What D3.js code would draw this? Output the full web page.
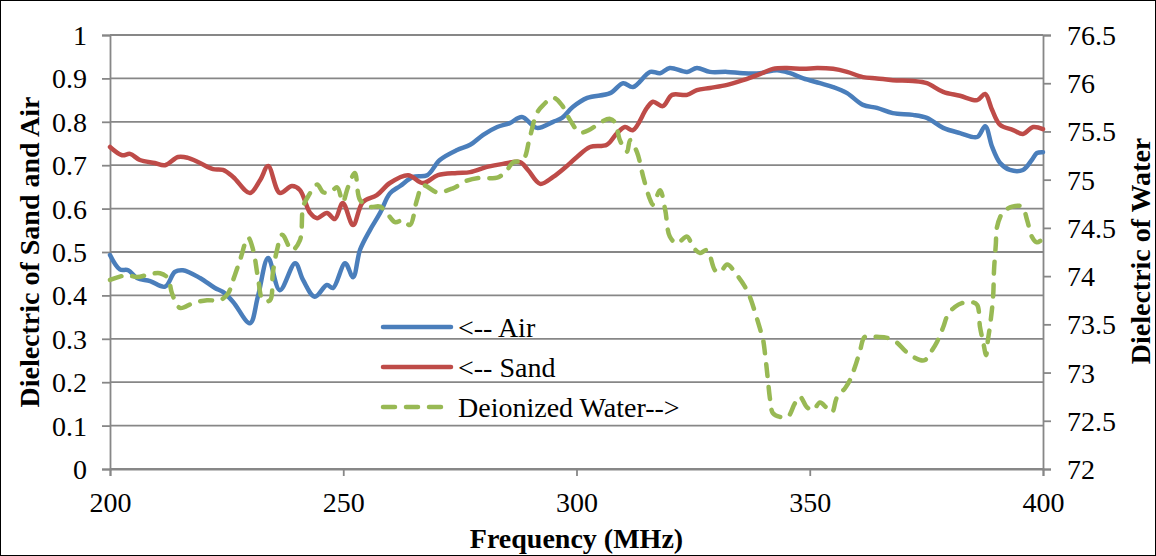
<!DOCTYPE html>
<html>
<head>
<meta charset="utf-8">
<script src="https://cdnjs.cloudflare.com/ajax/libs/d3/7.8.5/d3.min.js"></script>
<style>
  html, body { margin: 0; padding: 0; background: #fff; }
  svg { display: block; }
</style>
</head>
<body>
<svg id="chart" width="1156" height="556"></svg>
<script>
// ---- Data ----
const airFreq = [200,202.1,203.9,205.8,208.6,211.8,213.9,215.6,219.3,222.5,224.2,226.4,230.0,231.7,233.9,236.4,239.7,241.4,243.9,246.5,247.8,250.4,252.1,253.6,255.7,257.9,260.0,262.2,265.0,268.0,270.7,274.4,277.2,280.0,283.0,285.7,288.3,291.5,295.0,296.9,299.2,302.3,307.2,310.0,312.1,315.8,317.9,320.0,323.7,325.8,328.6,332.3,335.7,339.3,343.0,345.8,348.6,352.2,355.0,358.0,361.4,364.4,367.8,372.1,375.1,378.6,382.2,385.9,387.6,389.1,390.8,392.9,395.7,397.6,398.7,400];
const airValues = [0.493,0.46,0.458,0.44,0.433,0.42,0.454,0.458,0.44,0.417,0.408,0.385,0.336,0.397,0.486,0.412,0.474,0.435,0.397,0.424,0.417,0.474,0.442,0.505,0.55,0.59,0.635,0.652,0.673,0.677,0.712,0.735,0.747,0.77,0.788,0.797,0.811,0.786,0.8,0.809,0.834,0.855,0.866,0.889,0.88,0.915,0.912,0.924,0.915,0.924,0.915,0.915,0.912,0.912,0.919,0.912,0.9,0.889,0.88,0.866,0.839,0.832,0.82,0.816,0.809,0.786,0.774,0.765,0.79,0.742,0.705,0.689,0.689,0.712,0.728,0.73];

const sandFreq = [200,202.6,204.3,206.4,209.6,211.8,214.6,216.7,219.3,222.1,224.2,226.4,230.0,232.2,233.9,236.4,239.0,240.7,242.9,244.4,246.5,248.2,249.9,252.1,254.2,257.2,260.0,263.9,267.1,270.3,274.4,277.2,280.8,284.2,287.9,289.6,292.2,295.0,297.5,300.1,302.9,306.5,308.7,310.4,312.1,315.1,316.4,318.5,320.5,323.7,325.8,328.6,332.3,335.7,339.3,342.1,345.1,348.6,351.6,355.0,358.0,361.4,364.4,367.8,372.1,375.1,378.6,382.2,385.9,387.6,389.1,390.8,393.6,395.7,397.9,400];
const sandValues = [0.742,0.723,0.726,0.712,0.705,0.70,0.719,0.717,0.705,0.691,0.689,0.673,0.636,0.666,0.698,0.636,0.652,0.643,0.59,0.578,0.59,0.576,0.613,0.562,0.615,0.631,0.659,0.677,0.659,0.677,0.682,0.684,0.696,0.703,0.707,0.689,0.657,0.673,0.694,0.719,0.742,0.747,0.774,0.788,0.781,0.832,0.846,0.836,0.862,0.862,0.873,0.878,0.885,0.896,0.91,0.922,0.924,0.922,0.924,0.922,0.915,0.903,0.90,0.896,0.894,0.889,0.869,0.86,0.85,0.864,0.827,0.793,0.781,0.772,0.788,0.783];

const waterFreq = [200,203.6,205.8,208.6,210.7,212.4,213.3,215.0,217.8,220.8,223.6,225.3,226.4,227.9,229.6,230.7,231.7,232.8,234.3,234.9,235.8,236.9,239.0,240.7,241.4,242.4,244.4,245.7,247.2,248.7,249.9,251.0,252.5,253.6,255.7,257.9,259.4,261.1,262.8,264.3,265.8,267.1,270.1,273.5,276.5,279.3,283.0,285.1,286.4,288.5,290.0,291.5,292.8,295.0,296.9,298.6,300.7,302.9,305.0,307.2,308.3,309.3,310.8,311.5,313.0,314.3,315.8,316.4,317.9,319.0,320.0,321.5,323.7,325.0,326.5,328.0,329.7,330.8,332.3,334.4,336.1,337.2,338.3,339.3,340.0,340.4,340.8,341.1,341.5,342.1,343.6,345.3,346.8,347.9,349.4,350.7,352.2,353.7,354.8,355.8,357.6,358.6,359.7,360.8,361.8,364.4,366.6,368.7,370.8,373.6,374.7,375.8,377.3,378.6,379.6,381.1,382.6,384.8,385.9,386.5,387.2,387.8,388.2,388.6,389.3,389.5,389.9,390.1,391.4,393.4,395.5,396.6,397.6,398.7,400];
const waterValues = [73.96,74.01,73.99,74.02,74.03,73.98,73.82,73.67,73.72,73.75,73.75,73.82,73.96,74.17,74.40,74.27,73.99,73.75,73.75,74.03,74.27,74.43,74.27,74.37,74.72,74.82,74.95,74.87,74.87,74.92,74.77,74.92,75.07,74.79,74.72,74.72,74.65,74.56,74.58,74.53,74.79,74.94,74.87,74.91,74.99,75.02,75.02,75.10,75.18,75.20,75.44,75.69,75.77,75.85,75.77,75.62,75.49,75.52,75.59,75.63,75.59,75.41,75.29,75.41,75.28,75.03,74.79,74.74,74.89,74.69,74.41,74.34,74.41,74.30,74.24,74.27,74.06,74.04,74.12,74.01,73.89,73.78,73.62,73.46,73.34,73.20,73.03,72.89,72.72,72.58,72.54,72.54,72.68,72.75,72.64,72.61,72.69,72.63,72.59,72.74,72.84,72.92,73.06,73.23,73.37,73.37,73.36,73.31,73.21,73.13,73.13,73.20,73.32,73.47,73.60,73.68,73.72,73.73,73.70,73.47,73.31,73.18,73.34,73.47,73.78,74.06,74.34,74.50,74.66,74.72,74.72,74.58,74.41,74.35,74.39];

const xTicks = [200,250,300,350,400];
const leftTicks = [0,0.1,0.2,0.3,0.4,0.5,0.6,0.7,0.8,0.9,1];
const rightTicks = [72,72.5,73,73.5,74,74.5,75,75.5,76,76.5];
const seriesNames = ["<-- Air","<-- Sand","Deionized Water-->"];

// ---- Layout ----
const FONT = "'Liberation Serif', 'Times New Roman', Times, serif";
const svg = d3.select("#chart");
const L = 110, R = 1043, T = 35, B = 469;
const x = d3.scaleLinear().domain([200,400]).range([L,R]);
const yL = d3.scaleLinear().domain([0,1]).range([B,T]);
const yR = d3.scaleLinear().domain([72,76.5]).range([B,T]);
const gridColor = "#878787";
const fs = 28;

svg.append("rect").attr("x",0.5).attr("y",0.5).attr("width",1155).attr("height",555)
  .attr("fill","#fff").attr("stroke","#000").attr("stroke-width",1);

// gridlines
svg.append("g").selectAll("line").data(leftTicks).join("line")
  .attr("x1",L).attr("x2",R).attr("y1",d=>yL(d)).attr("y2",d=>yL(d))
  .attr("stroke",gridColor).attr("stroke-width",1.8);

// axes
const gl = svg.append("g").attr("transform",`translate(${L},0)`)
  .call(d3.axisLeft(yL).tickValues(leftTicks).tickSize(8).tickPadding(15).tickFormat(d=>d3.format("~g")(d)));
const gr = svg.append("g").attr("transform",`translate(${R},0)`)
  .call(d3.axisRight(yR).tickValues(rightTicks).tickSize(8).tickPadding(16).tickFormat(d=>d3.format("~g")(d)));
const gb = svg.append("g").attr("transform",`translate(0,${B})`)
  .call(d3.axisBottom(x).tickValues(xTicks).tickSize(7).tickPadding(16).tickFormat(d3.format("d")));

[gl,gr,gb].forEach(g=>{
  g.attr("font-family",null).attr("font-size",null);
  g.select(".domain").attr("stroke",gridColor).attr("stroke-width",1.8);
  g.selectAll(".tick line").attr("stroke",gridColor).attr("stroke-width",1.8);
  g.selectAll(".tick text").style("font-family",FONT).style("font-size",fs+"px").attr("fill","#000");
});
gl.selectAll(".tick text").attr("dy","0.34em");
gr.selectAll(".tick text").attr("dy","0.34em");
gb.selectAll(".tick text").attr("dy","0.71em");

// lines
const lineL = d3.line().x(d=>x(d[0])).y(d=>yL(d[1])).curve(d3.curveCatmullRom.alpha(0.5));
const lineR = d3.line().x(d=>x(d[0])).y(d=>yR(d[1])).curve(d3.curveCatmullRom.alpha(0.5));
const airData = airFreq.map((f,i)=>[f,airValues[i]]);
const sandData = sandFreq.map((f,i)=>[f,sandValues[i]]);
const waterData = waterFreq.map((f,i)=>[f,waterValues[i]]);
const colors = ["#4A7EBB","#BE4B48","#98B954"];
const sw = 4.5;

svg.append("path").datum(airData).attr("d",lineL).attr("fill","none")
  .attr("stroke",colors[0]).attr("stroke-width",sw).attr("stroke-linejoin","round").attr("stroke-linecap","round");
svg.append("path").datum(sandData).attr("d",lineL).attr("fill","none")
  .attr("stroke",colors[1]).attr("stroke-width",sw).attr("stroke-linejoin","round").attr("stroke-linecap","round");
svg.append("path").datum(waterData).attr("d",lineR).attr("fill","none")
  .attr("stroke",colors[2]).attr("stroke-width",sw).attr("stroke-linejoin","round").attr("stroke-linecap","round")
  .attr("stroke-dasharray","12,11");

// legend
const lg = svg.append("g");
const legY = [327,367,407];
seriesNames.forEach((n,i)=>{
  lg.append("line").attr("x1",383).attr("x2",451).attr("y1",legY[i]).attr("y2",legY[i])
    .attr("stroke",colors[i]).attr("stroke-width",sw).attr("stroke-linecap","round")
    .attr("stroke-dasharray", i===2 ? "12,11" : null);
  lg.append("text").attr("x",458).attr("y",legY[i]).attr("dy","0.34em")
    .style("font-family",FONT).style("font-size",fs+"px").attr("fill","#000").text(n);
});

// axis titles
function title(sel){ return sel.style("font-family",FONT).style("font-size","28px").style("font-weight","bold").attr("fill","#000").attr("text-anchor","middle"); }
title(svg.append("text").attr("x",(L+R)/2).attr("y",548)).text("Frequency (MHz)");
title(svg.append("text").attr("transform","translate(39,252) rotate(-90)")).text("Dielectric of Sand and Air");
title(svg.append("text").attr("transform","translate(1150,251) rotate(-90)")).text("Dielectric of Water");
</script>
</body>
</html>
